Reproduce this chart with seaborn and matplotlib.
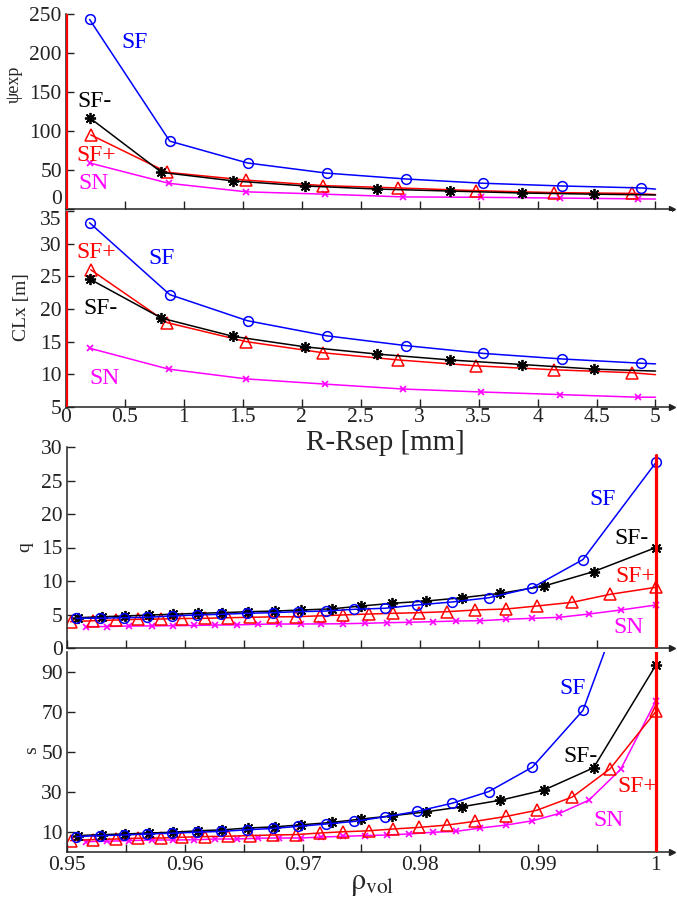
import numpy as np
import pandas as pd
import matplotlib
matplotlib.use("Agg")
import matplotlib.pyplot as plt
from matplotlib.ticker import FixedLocator, FuncFormatter
import seaborn as sns

# ---------------- data ----------------
series = ["SF", "SF-", "SF+", "SN"]
colors = {"SF": "#0000FF", "SF-": "#000000", "SF+": "#FF0000", "SN": "#FF00FF"}

# upper panels: x = R-Rsep [mm] (last point is line end, no marker)
r_SF = [0.20, 0.88, 1.54, 2.21, 2.88, 3.54, 4.21, 4.88, 5.0]
r_SFm = [0.20, 0.81, 1.42, 2.03, 2.64, 3.26, 3.87, 4.48, 5.0]
r_SFp = [0.21, 0.86, 1.53, 2.18, 2.82, 3.48, 4.14, 4.80, 5.0]
r_SN = [0.20, 0.87, 1.53, 2.20, 2.86, 3.52, 4.19, 4.85, 5.0]

psi_SF = [243, 87, 59, 46, 38.5, 33, 29.5, 27, 25.5]
psi_SFm = [117, 47, 36, 29.5, 25.6, 23, 20.5, 19, 18]
psi_SFp = [95, 47, 37, 30, 27, 23.5, 21, 20, 18.5]
psi_SN = [59, 33, 22, 19, 15.5, 15, 14, 13, 12.8]

clx_SF = [33.2, 22.2, 18.2, 15.9, 14.4, 13.2, 12.35, 11.7, 11.6]
clx_SFm = [24.6, 18.6, 15.8, 14.2, 13.1, 12.2, 11.5, 10.8, 10.5]
clx_SFp = [26.0, 17.9, 15.0, 13.3, 12.2, 11.3, 10.7, 10.25, 9.95]
clx_SN = [14.0, 10.8, 9.3, 8.5, 7.75, 7.3, 6.9, 6.5, 6.5]

# lower panels: x = rho_vol
rho_SF = [0.9508, 0.9528, 0.9548, 0.9568, 0.9589, 0.9610, 0.9631, 0.9653, 0.9675, 0.9696,
          0.9720, 0.9744, 0.9770, 0.9797, 0.9827, 0.9858, 0.9895, 0.9938, 1.0]
rho_SFm = [0.9509, 0.9530, 0.9549, 0.9570, 0.9590, 0.9611, 0.9632, 0.9654, 0.9677, 0.9699,
           0.9725, 0.9750, 0.9776, 0.9805, 0.9835, 0.9868, 0.9905, 0.9947, 1.0]
rho_SFp = [0.9503, 0.9522, 0.9542, 0.9560, 0.9580, 0.9598, 0.9617, 0.9637, 0.9655, 0.9675,
           0.9694, 0.9715, 0.9734, 0.9756, 0.9777, 0.9799, 0.9823, 0.9846, 0.9873, 0.9899,
           0.9929, 0.9961, 1.0]
rho_SN = [0.9516, 0.9534, 0.9553, 0.9572, 0.9590, 0.9608, 0.9626, 0.9644, 0.9662, 0.9680,
          0.9699, 0.9716, 0.9734, 0.9753, 0.9772, 0.9790, 0.9811, 0.9830, 0.9851, 0.9873,
          0.9895, 0.9918, 0.9943, 0.9970, 1.0]

q_SF = [4.43, 4.45, 4.52, 4.58, 4.78, 4.93, 5.03, 5.18, 5.27, 5.42, 5.52, 5.78, 5.93, 6.42,
        6.87, 7.5, 9.0, 13.2, 27.7]
q_SFm = [4.52, 4.67, 4.78, 4.93, 5.03, 5.18, 5.27, 5.42, 5.52, 5.67, 5.85, 6.27, 6.67, 7.01,
         7.5, 8.16, 9.25, 11.4, 15.0]
q_SFp = [3.93, 4.07, 4.18, 4.28, 4.33, 4.40, 4.43, 4.52, 4.58, 4.65, 4.67, 4.80, 4.93, 5.07,
         5.18, 5.27, 5.42, 5.67, 5.82, 6.27, 6.82, 8.01, 9.06]
q_SN = [3.18, 3.20, 3.28, 3.30, 3.33, 3.36, 3.43, 3.45, 3.54, 3.58, 3.58, 3.60, 3.62, 3.69,
        3.78, 3.84, 3.93, 4.03, 4.07, 4.28, 4.43, 4.58, 5.07, 5.67, 6.42]

s_SF = [7.7, 8.2, 8.5, 9.0, 9.4, 9.9, 10.3, 11.1, 11.8, 12.8, 14.0, 15.3, 17.6, 20.3, 24.4,
        30.2, 42.4, 70.8, 170]
s_SFm = [8.2, 8.7, 9.0, 9.5, 9.9, 10.6, 11.1, 12.0, 12.6, 13.6, 14.8, 16.5, 18.1, 20.1, 22.6,
         25.9, 31.0, 42.1, 93.5]
s_SFp = [5.7, 6.2, 6.5, 6.9, 7.0, 7.4, 7.7, 7.9, 8.2, 8.5, 8.7, 9.5, 10.1, 10.6, 11.5, 12.3,
         13.5, 15.3, 17.8, 20.9, 27.5, 41.6, 70.3]
s_SN = [5.2, 5.4, 5.7, 6.0, 6.0, 6.1, 6.5, 6.5, 6.9, 7.0, 7.0, 7.5, 7.8, 8.2, 8.5, 9.0, 9.9,
        10.3, 12.0, 13.5, 15.6, 19.3, 25.9, 41.3, 75.7]

# label anchor positions (data coords) for series names
lab_psi = {"SF": (0.58, 213), "SF-": (0.24, 138), "SF+": (0.26, 68), "SN": (0.23, 33)}
lab_clx = {"SF": (0.81, 27.7), "SF-": (0.29, 20.0), "SF+": (0.26, 28.7), "SN": (0.33, 9.4)}
lab_q = {"SF": (0.9955, 22.1), "SF-": (0.9979, 16.4), "SF+": (0.9982, 10.7), "SN": (0.9977, 3.1)}
lab_s = {"SF": (0.9929, 81.5), "SF-": (0.9936, 48.0), "SF+": (0.9984, 33.0), "SN": (0.9960, 15.5)}

# ---------------- style ----------------
sns.set_style("ticks")
plt.rcParams["font.family"] = ["Liberation Serif", "DejaVu Serif"]
plt.rcParams["mathtext.fontset"] = "stix"
plt.rcParams["axes.linewidth"] = 1.1
plt.rcParams["axes.edgecolor"] = "#222222"
plt.rcParams["xtick.color"] = "#222222"
plt.rcParams["ytick.color"] = "#222222"

markers = {"SF": dict(marker="o", markersize=7, markerfacecolor="none", markeredgewidth=1.1),
           "SF-": dict(marker=(8, 2, 0), markersize=8, markeredgewidth=1.3),
           "SF+": dict(marker="^", markersize=8, markerfacecolor="none", markeredgewidth=1.1),
           "SN": dict(marker="x", markersize=5, markeredgewidth=1.2)}

W, H = 677, 902
fig = plt.figure(figsize=(W / 100, H / 100), dpi=100)


def rect(left, top, right, bottom):
    return [left / W, 1 - bottom / H, (right - left) / W, (bottom - top) / H]


ax1 = fig.add_axes(rect(66, 14, 672, 209))
ax2 = fig.add_axes(rect(66, 211, 672, 407))
ax3 = fig.add_axes(rect(67, 447, 672, 648))
ax4 = fig.add_axes(rect(67, 652, 672, 852))

top_sets = [
    (ax1, {"SF": (r_SF, psi_SF), "SF-": (r_SFm, psi_SFm), "SF+": (r_SFp, psi_SFp), "SN": (r_SN, psi_SN)}, lab_psi),
    (ax2, {"SF": (r_SF, clx_SF), "SF-": (r_SFm, clx_SFm), "SF+": (r_SFp, clx_SFp), "SN": (r_SN, clx_SN)}, lab_clx),
]
bot_sets = [
    (ax3, {"SF": (rho_SF, q_SF), "SF-": (rho_SFm, q_SFm), "SF+": (rho_SFp, q_SFp), "SN": (rho_SN, q_SN)}, lab_q),
    (ax4, {"SF": (rho_SF, s_SF), "SF-": (rho_SFm, s_SFm), "SF+": (rho_SFp, s_SFp), "SN": (rho_SN, s_SN)}, lab_s),
]

LABEL_FS = 17
TICK_FS = 15.5

for ax, d, labs in top_sets:
    for name in ["SN", "SF+", "SF-", "SF"]:
        x, y = d[name]
        df = pd.DataFrame({"x": x, "y": y})
        sns.lineplot(data=df, x="x", y="y", ax=ax, color=colors[name], lw=1.1,
                     sort=False, estimator=None, markevery=list(range(len(x) - 1)),
                     markeredgecolor=colors[name], **markers[name])
    for name, (tx, ty) in labs.items():
        ax.text(tx, ty, name, color=colors[name], fontsize=LABEL_FS, ha="center", va="center")
    ax.axvline(0.0, color="#FF0000", lw=2.3, zorder=5)
    ax.set_xlim(0, 5.14)

for ax, d, labs in bot_sets:
    for name in ["SN", "SF+", "SF-", "SF"]:
        x, y = d[name]
        df = pd.DataFrame({"x": x, "y": y})
        sns.lineplot(data=df, x="x", y="y", ax=ax, color=colors[name], lw=1.1,
                     sort=False, estimator=None,
                     markeredgecolor=colors[name], **markers[name])
    for name, (tx, ty) in labs.items():
        ax.text(tx, ty, name, color=colors[name], fontsize=LABEL_FS, ha="center", va="center")
    ax.set_xlim(0.95, 1.00136)

ax3.axvline(1.0, ymin=0.0, ymax=0.96, color="#FF0000", lw=2.3, zorder=5)
ax4.axvline(1.0, color="#FF0000", lw=2.3, zorder=5)

ax1.set_ylim(0, 250)
ax2.set_ylim(5, 35)
ax3.set_ylim(0, 30)
ax4.set_ylim(0, 100)

ax1.yaxis.set_major_locator(FixedLocator([0, 50, 100, 150, 200, 250]))
ax2.yaxis.set_major_locator(FixedLocator([5, 10, 15, 20, 25, 30, 35]))
ax3.yaxis.set_major_locator(FixedLocator([0, 5, 10, 15, 20, 25, 30]))
ax4.yaxis.set_major_locator(FixedLocator([10, 30, 50, 70, 90]))

rticks = [0, 0.5, 1, 1.5, 2, 2.5, 3, 3.5, 4, 4.5, 5]
rhoticks = [0.95, 0.955, 0.96, 0.965, 0.97, 0.975, 0.98, 0.985, 0.99, 0.995, 1.0]
for ax in (ax1, ax2):
    ax.xaxis.set_major_locator(FixedLocator(rticks))
for ax in (ax3, ax4):
    ax.xaxis.set_major_locator(FixedLocator(rhoticks))

gfmt = FuncFormatter(lambda v, p: "%g" % v)
ax2.xaxis.set_major_formatter(gfmt)
ax4.xaxis.set_major_formatter(FuncFormatter(
    lambda v, p: ("%g" % round(v, 3)) if abs(round(v * 100) - v * 100) < 1e-6 else ""))
ax1.set_xticklabels([])
ax3.set_xticklabels([])
for ax in (ax1, ax2, ax3, ax4):
    ax.yaxis.set_major_formatter(gfmt)
    ax.tick_params(direction="in", length=6, width=1.0, labelsize=TICK_FS, pad=3)
    sns.despine(ax=ax, top=True, right=True)
    ax.set_xlabel("")
    ax.set_ylabel("")
    # arrow at the end of x axis
    ax.plot(1, 0, marker=">", color="#222222", ms=5, transform=ax.transAxes, clip_on=False)
ax2.tick_params(axis="x", pad=1)

fig.canvas.draw()
# shift the edge labels like the reference
ax1.get_yticklabels()[0].set_va("bottom")
ax2.get_yticklabels()[-1].set_va("top")

# axis labels
fig.text(385 / W, 1 - 450 / H, "R-Rsep [mm]", fontsize=21, ha="center", va="baseline")
fig.text(372 / W, 1 - 884 / H, r"$\mathrm{\rho}_{\mathrm{vol}}$", fontsize=22, ha="center", va="center")
fig.text(14 / W, 1 - 84 / H, "ψexp", fontsize=13, rotation=90, ha="center", va="center")
fig.text(22 / W, 1 - 307 / H, "CLx [m]", fontsize=14, rotation=90, ha="center", va="center")
fig.text(25 / W, 1 - 547 / H, "q", fontsize=14, rotation=90, ha="center", va="center")
fig.text(32 / W, 1 - 750 / H, "s", fontsize=14, rotation=90, ha="center", va="center")

fig.savefig("out.png", dpi=100)
